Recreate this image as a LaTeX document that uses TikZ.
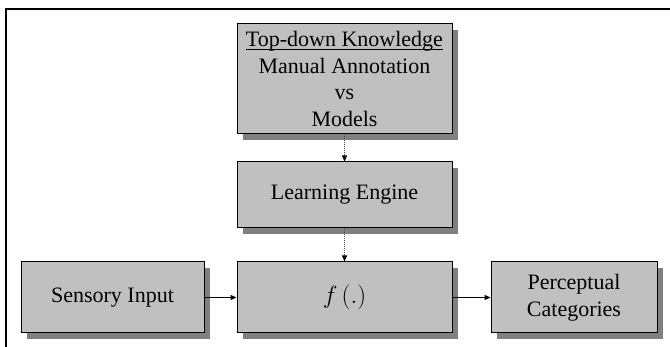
\documentclass[tikz,border=0pt]{standalone}
\usepackage{fontspec}
\setmainfont{Liberation Serif}
\usetikzlibrary{shadows,arrows.meta}
\definecolor{boxgray}{RGB}{192,192,192}
\definecolor{shadegray}{RGB}{128,128,128}
\newcommand\myul[1]{\setbox0\hbox{#1}\rlap{\rule[-3.5pt]{\wd0}{1pt}}\box0}
\begin{document}
\begin{tikzpicture}[x=1pt,y=-1pt,
  blockbox/.style={draw=black, line width=1pt, fill=boxgray, rectangle,
    inner sep=0pt, align=center,
    font=\fontsize{22}{26.5}\selectfont,
    general shadow={fill=shadegray, shadow xshift=6pt, shadow yshift=-6pt}},
  solidarrow/.style={draw=black, line width=1pt, -{Triangle[length=6pt,width=5pt]}},
  dotarrow/.style={draw=black!70, line width=1pt, densely dotted,
    -{Triangle[length=6pt,width=5pt,color=black,fill=black]}}]
\useasboundingbox (0,0) rectangle (670,347);
\fill[white] (0,0) rectangle (670,347);
% frame
\coordinate (ftl) at (6,9);
\coordinate (ftr) at (670,9);
\coordinate (fbl) at (6,347);
\draw[line width=2pt] (fbl) -- (ftl) -- (ftr);
% boxes
\node[blockbox, minimum width=215pt, minimum height=110pt] (know) at (344.5,79)
  {\myul{Top-down Knowledge}\\Manual Annotation\\vs\\Models};
\node[blockbox, minimum width=215pt, minimum height=66pt] (learn) at (344.5,195)
  {Learning Engine};
\node[blockbox, minimum width=183pt, minimum height=71pt] (sens) at (112.5,297.5)
  {Sensory Input};
\node[blockbox, minimum width=215pt, minimum height=71pt,
  font=\fontsize{26}{30}\selectfont] (func) at (344.5,297.5)
  {$f\,(.)$};
\node[blockbox, minimum width=166pt, minimum height=71pt] (perc) at (574,297.5)
  {Perceptual\\Categories};
% connectors
\draw[dotarrow] (know.south) -- (learn.north);
\draw[dotarrow] (learn.south) -- (func.north);
\draw[solidarrow] (sens.east) -- (func.west);
\draw[solidarrow] (func.east) -- (perc.west);
\end{tikzpicture}
\end{document}
